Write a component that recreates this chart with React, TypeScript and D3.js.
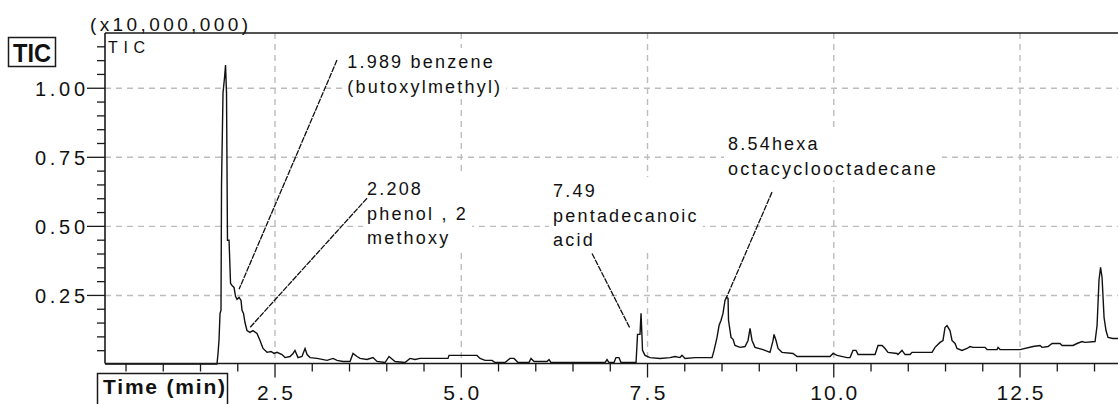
import React, { useEffect, useRef } from "react";
import * as d3 from "d3";

// Total ion chromatogram trace (retention time in min, intensity in units of 10,000,000)
const retentionTime = [
  0.218, 1.721, 1.735, 1.748, 1.762, 1.775, 1.782, 1.802, 1.822, 1.836, 1.849, 1.862, 1.883, 1.903,
  1.923, 1.95, 1.97, 1.99, 2.017, 2.044, 2.057, 2.077, 2.097, 2.124, 2.164, 2.205, 2.258, 2.299,
  2.339, 2.393, 2.446, 2.487, 2.527, 2.594, 2.634, 2.701, 2.742, 2.768, 2.809, 2.862, 2.903, 2.93,
  2.97, 3.064, 3.198, 3.279, 3.332, 3.413, 3.507, 3.547, 3.601, 3.641, 3.735, 3.815, 3.869, 3.977,
  4.03, 4.111, 4.245, 4.312, 4.379, 4.446, 4.822, 4.836, 5.211, 5.252, 5.319, 5.413, 5.453, 5.587,
  5.654, 5.708, 5.762, 5.909, 5.936, 5.977, 6.151, 6.178, 6.205, 6.93, 6.956, 6.983, 7.05, 7.077,
  7.117, 7.144, 7.346, 7.366, 7.399, 7.413, 7.433, 7.466, 7.534, 7.668, 7.802, 7.869, 7.936, 7.963,
  8.003, 8.138, 8.366, 8.393, 8.433, 8.46, 8.487, 8.513, 8.54, 8.56, 8.581, 8.587, 8.621, 8.648,
  8.674, 8.742, 8.809, 8.849, 8.876, 8.903, 8.943, 9.05, 9.144, 9.185, 9.198, 9.225, 9.252, 9.305,
  9.453, 9.507, 9.95, 9.99, 10.044, 10.178, 10.218, 10.258, 10.299, 10.326, 10.554, 10.594, 10.648,
  10.688, 10.728, 10.849, 10.862, 10.916, 10.957, 11.024, 11.05, 11.319, 11.359, 11.426, 11.466,
  11.493, 11.52, 11.56, 11.587, 11.628, 11.654, 11.721, 11.788, 11.829, 11.869, 12.03, 12.057,
  12.191, 12.205, 12.232, 12.5, 12.675, 12.768, 12.795, 12.876, 12.93, 13.037, 13.064, 13.211,
  13.265, 13.332, 13.372, 13.507, 13.534, 13.56, 13.581, 13.601, 13.628, 13.654, 13.681, 13.748,
  13.815,
];
const intensity = [
  0.002, 0.002, 0.04, 0.087, 0.185, 0.196, 0.649, 0.983, 1.037, 1.084, 0.983, 0.45, 0.45, 0.294,
  0.286, 0.279, 0.247, 0.236, 0.243, 0.232, 0.196, 0.185, 0.152, 0.123, 0.116, 0.123, 0.112, 0.087,
  0.058, 0.044, 0.047, 0.04, 0.044, 0.036, 0.025, 0.029, 0.04, 0.051, 0.025, 0.029, 0.058, 0.036,
  0.025, 0.022, 0.015, 0.022, 0.015, 0.011, 0.011, 0.04, 0.029, 0.022, 0.018, 0.025, 0.011, 0.007,
  0.029, 0.011, 0.007, 0.022, 0.018, 0.022, 0.022, 0.033, 0.033, 0.022, 0.015, 0.015, 0.007, 0.007,
  0.022, 0.022, 0.007, 0.007, 0.022, 0.011, 0.011, 0.018, 0.007, 0.007, 0.018, 0.007, 0.007, 0.025,
  0.025, 0.007, 0.007, 0.109, 0.109, 0.185, 0.051, 0.033, 0.025, 0.022, 0.025, 0.029, 0.025, 0.033,
  0.022, 0.025, 0.025, 0.051, 0.098, 0.141, 0.16, 0.185, 0.232, 0.243, 0.239, 0.16, 0.098, 0.091,
  0.069, 0.062, 0.065, 0.087, 0.131, 0.087, 0.062, 0.054, 0.044, 0.087, 0.109, 0.087, 0.058, 0.044,
  0.04, 0.029, 0.029, 0.04, 0.033, 0.025, 0.025, 0.051, 0.051, 0.036, 0.036, 0.069, 0.069,
  0.058, 0.044, 0.04, 0.036, 0.051, 0.036, 0.036, 0.044, 0.044, 0.062, 0.08, 0.087,
  0.134, 0.141, 0.123, 0.087, 0.076, 0.058, 0.051, 0.058, 0.065, 0.062, 0.062, 0.054,
  0.054, 0.062, 0.054, 0.054, 0.065, 0.069, 0.062, 0.065, 0.076, 0.076, 0.069, 0.069,
  0.076, 0.083, 0.08, 0.083, 0.141, 0.305, 0.352, 0.315, 0.17, 0.123, 0.098, 0.094,
  0.094,
];

const xTickValues = [2.5, 5.0, 7.5, 10.0, 12.5];
const xTickLabels = ["2.5", "5.0", "7.5", "10.0", "12.5"];
const yTickValues = [0.25, 0.5, 0.75, 1.0];
const yTickLabels = ["0.25", "0.50", "0.75", "1.00"];

// Peak annotations: text lines, text anchor and leader line (time, intensity)
const peakLabelLines = [
  ["1.989 benzene", "(butoxylmethyl)"],
  ["2.208", "phenol , 2", "methoxy"],
  ["7.49", "pentadecanoic", "acid"],
  ["8.54hexa", "octacyclooctadecane"],
];
const peakLabelTime = [3.47, 3.735, 6.232, 8.581];
const peakLabelLevel = [1.073, 0.613, 0.606, 0.776];
const leaderStartTime = [3.332, 3.735, 6.755, 9.171];
const leaderStartLevel = [1.102, 0.602, 0.402, 0.624];
const leaderEndTime = [2.017, 2.164, 7.265, 8.554];
const leaderEndLevel = [0.272, 0.134, 0.131, 0.239];

const W = 1118;
const H = 404;
const FONT = "'Liberation Sans', Arial, sans-serif";

export default function App() {
  const ref = useRef<SVGSVGElement>(null);

  useEffect(() => {
    const svg = d3.select(ref.current);
    svg.selectAll("*").remove();

    const left = 105;
    const top = 33;
    const x = d3.scaleLinear().domain([0.218, 13.815]).range([left, W]);
    const y = d3.scaleLinear().domain([0, 1.2]).range([364.5, top]);
    const axisY = 363.5;

    svg.append("rect").attr("width", W).attr("height", H).attr("fill", "#fff");

    // dashed grid
    const grid = svg.append("g").attr("stroke", "#bdbdbd").attr("stroke-width", 1.4)
      .attr("stroke-dasharray", "6,5");
    yTickValues.forEach((v) => {
      grid.append("line").attr("x1", left).attr("x2", W).attr("y1", y(v)).attr("y2", y(v));
    });
    xTickValues.forEach((t) => {
      grid.append("line").attr("x1", x(t)).attr("x2", x(t)).attr("y1", top).attr("y2", axisY);
    });

    // peak annotations with white backing
    const lineGap = 24.5;
    const ann = svg.append("g");
    peakLabelLines.forEach((lines, i) => {
      const g = ann.append("g");
      const bg = g.append("rect").attr("fill", "#fff");
      const txt = g.append("text")
        .attr("font-family", FONT)
        .attr("font-size", 18)
        .attr("letter-spacing", 2.2)
        .attr("fill", "#111");
      lines.forEach((s, k) => {
        txt.append("tspan")
          .attr("x", x(peakLabelTime[i]))
          .attr("y", y(peakLabelLevel[i]) + k * lineGap)
          .text(s);
      });
      const bb = (txt.node() as SVGTextElement).getBBox();
      bg.attr("x", bb.x - 4).attr("y", bb.y - 4).attr("width", bb.width + 8).attr("height", bb.height + 6);
    });

    // leader lines
    const leaders = svg.append("g").attr("stroke", "#111").attr("stroke-width", 1.3)
      .attr("stroke-dasharray", "6,1");
    leaderStartTime.forEach((_, i) => {
      leaders.append("line")
        .attr("x1", x(leaderStartTime[i])).attr("y1", y(leaderStartLevel[i]))
        .attr("x2", x(leaderEndTime[i])).attr("y2", y(leaderEndLevel[i]));
    });

    // trace
    svg.append("clipPath").attr("id", "plotClip").append("rect")
      .attr("x", left).attr("y", top).attr("width", W - left).attr("height", axisY - top + 2);
    const pts = retentionTime.map((t, i) => [t, intensity[i]] as [number, number]);
    const line = d3.line<[number, number]>().x((d) => x(d[0])).y((d) => y(d[1]));
    svg.append("path")
      .attr("d", line(pts))
      .attr("clip-path", "url(#plotClip)")
      .attr("fill", "none")
      .attr("stroke", "#111")
      .attr("stroke-width", 1.4)
      .attr("stroke-linejoin", "miter");

    // frame: left axis, top border, bottom axis
    const frame = svg.append("g").attr("stroke", "#1a1a1a").attr("stroke-width", 1.6);
    frame.append("line").attr("x1", left).attr("x2", left).attr("y1", top).attr("y2", axisY);
    frame.append("line").attr("x1", left).attr("x2", W).attr("y1", top).attr("y2", top);
    frame.append("line").attr("x1", left).attr("x2", W).attr("y1", axisY).attr("y2", axisY);

    // y ticks
    const yt = svg.append("g").attr("stroke", "#1a1a1a").attr("stroke-width", 1.3);
    d3.range(1, 24).forEach((k) => {
      const v = k * 0.05;
      const major = k % 5 === 0;
      yt.append("line").attr("x1", major ? 87 : 97).attr("x2", left)
        .attr("y1", y(v)).attr("y2", y(v));
    });
    yTickValues.forEach((v, i) => {
      svg.append("text")
        .attr("x", 35).attr("y", y(v) + 8)
        .attr("font-family", FONT).attr("font-size", 20)
        .attr("textLength", 50).attr("lengthAdjust", "spacing")
        .attr("fill", "#111")
        .text(yTickLabels[i]);
    });

    // x ticks
    const xt = svg.append("g").attr("stroke", "#1a1a1a").attr("stroke-width", 1.3);
    d3.range(1, 28).forEach((k) => {
      const t = k * 0.5;
      if (t <= 0.218 || t > 13.815) return;
      const major = k % 5 === 0;
      xt.append("line").attr("x1", x(t)).attr("x2", x(t))
        .attr("y1", axisY).attr("y2", axisY + (major ? 14 : 8));
    });
    xTickValues.forEach((t, i) => {
      const s = xTickLabels[i];
      const w = s.length === 3 ? 36 : 47;
      svg.append("text")
        .attr("x", x(t) - w / 2).attr("y", 400)
        .attr("font-family", FONT).attr("font-size", 21)
        .attr("textLength", w).attr("lengthAdjust", "spacing")
        .attr("fill", "#111")
        .text(s);
    });

    // scale factor and trace name
    svg.append("text")
      .attr("x", 90).attr("y", 31)
      .attr("font-family", FONT).attr("font-size", 19)
      .attr("textLength", 158).attr("lengthAdjust", "spacing")
      .attr("fill", "#111")
      .text("(x10,000,000)");
    svg.append("text")
      .attr("x", 108).attr("y", 53)
      .attr("font-family", FONT).attr("font-size", 16)
      .attr("textLength", 37).attr("lengthAdjust", "spacing")
      .attr("fill", "#111")
      .text("TIC");

    // boxed labels
    svg.append("rect").attr("x", 8.5).attr("y", 37.5).attr("width", 47).attr("height", 29)
      .attr("fill", "#fff").attr("stroke", "#1a1a1a").attr("stroke-width", 1.5);
    svg.append("text")
      .attr("x", 13).attr("y", 61.5)
      .attr("font-family", FONT).attr("font-size", 25).attr("font-weight", "bold")
      .attr("textLength", 38).attr("lengthAdjust", "spacingAndGlyphs")
      .attr("fill", "#111")
      .text("TIC");

    svg.append("rect").attr("x", 97.5).attr("y", 373.5).attr("width", 130).attr("height", 40)
      .attr("fill", "#fff").attr("stroke", "#1a1a1a").attr("stroke-width", 1.5);
    svg.append("text")
      .attr("x", 103).attr("y", 394)
      .attr("font-family", FONT).attr("font-size", 21).attr("font-weight", "bold")
      .attr("textLength", 122).attr("lengthAdjust", "spacing")
      .attr("fill", "#111")
      .text("Time (min)");
  }, []);

  return (
    <svg
      ref={ref}
      width={W}
      height={H}
      style={{ position: "absolute", left: 0, top: 0, display: "block" }}
    />
  );
}
